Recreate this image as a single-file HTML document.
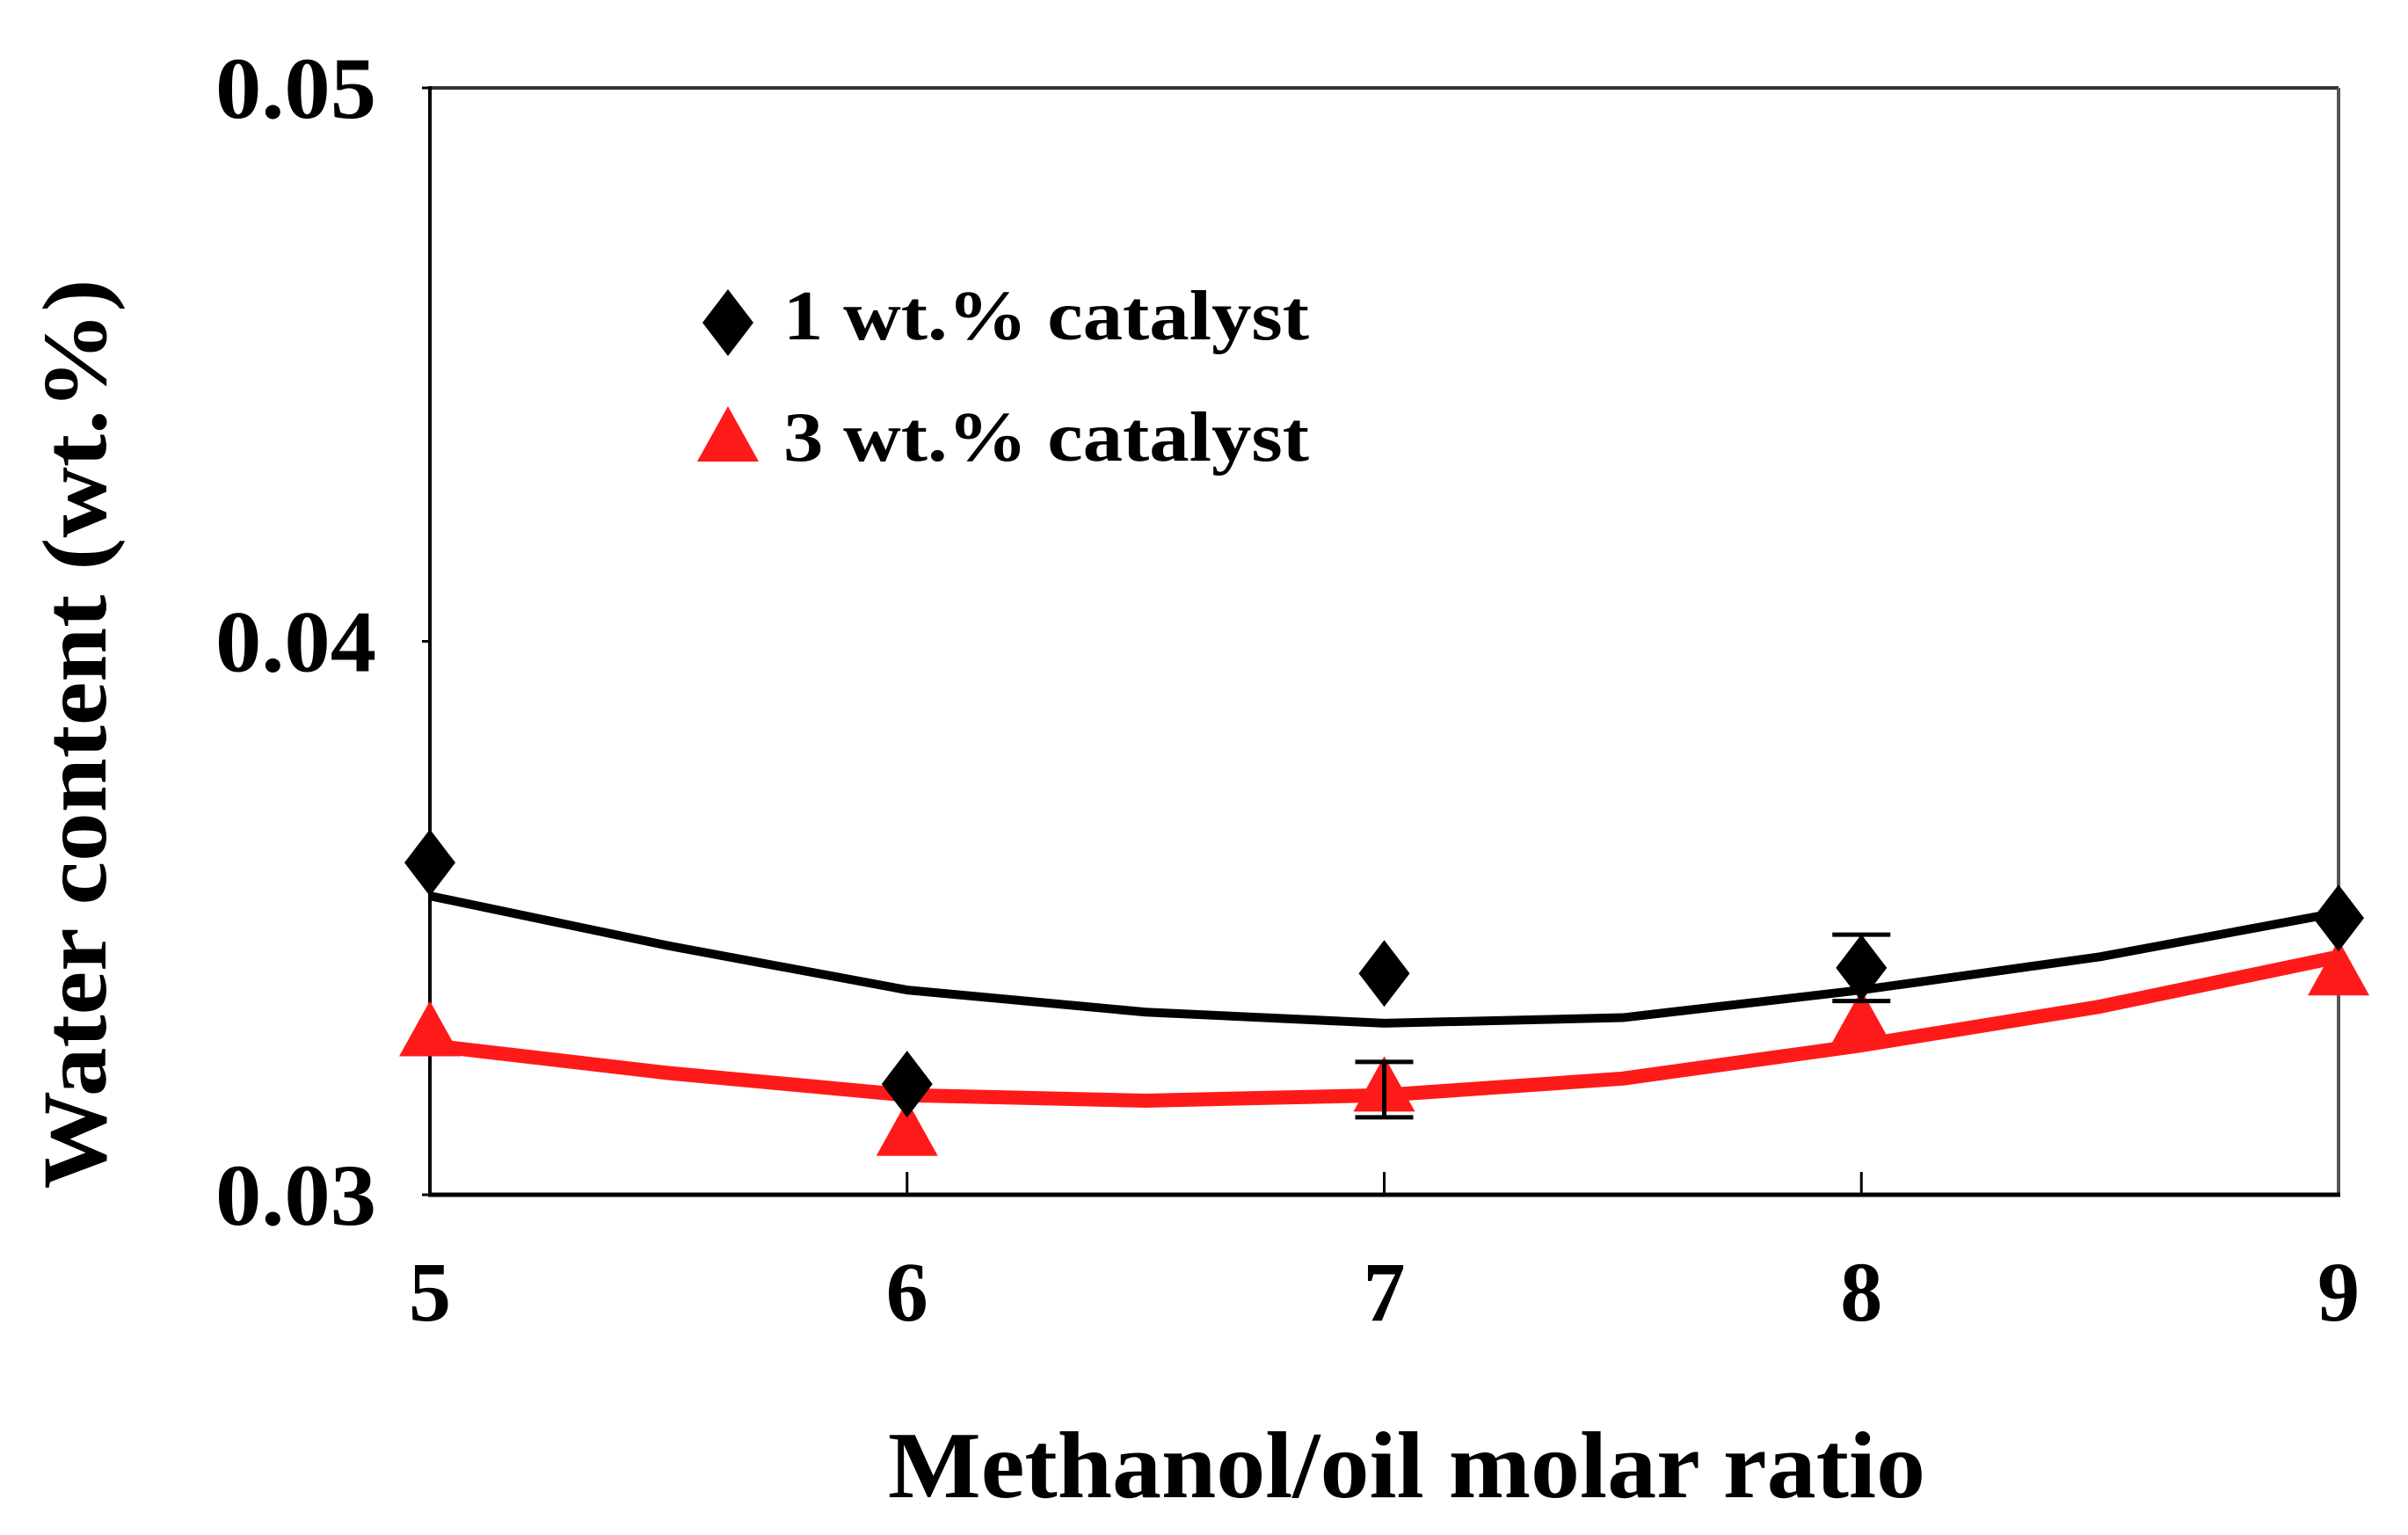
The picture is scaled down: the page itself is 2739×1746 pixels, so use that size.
<!DOCTYPE html>
<html><head><meta charset="utf-8">
<style>
html,body{margin:0;padding:0;background:#fff;}
svg{display:block;}
text{font-family:"Liberation Serif",serif;font-weight:bold;fill:#000;}
</style></head>
<body>
<svg id="chart" width="2739" height="1746" viewBox="0 0 2739 1746" xmlns="http://www.w3.org/2000/svg">
<rect width="2739" height="1746" fill="#fff"/>
<g id="frame">
<line x1="489" y1="100" x2="2660" y2="100" stroke="#333" stroke-width="4"/>
<line x1="2660" y1="100" x2="2660" y2="1359" stroke="#555" stroke-width="4"/>
<line x1="489" y1="98" x2="489" y2="1361" stroke="#000" stroke-width="4"/>
<line x1="487" y1="1359" x2="2662" y2="1359" stroke="#000" stroke-width="5"/>
</g>
<g id="series"></g>
<text x="891" y="386" font-size="80" textLength="598" lengthAdjust="spacingAndGlyphs">1 wt.% catalyst</text>
<text x="891" y="524" font-size="80" textLength="598" lengthAdjust="spacingAndGlyphs">3 wt.% catalyst</text>
<text x="1600" y="1703" font-size="108" text-anchor="middle" textLength="1180" lengthAdjust="spacingAndGlyphs">Methanol/oil molar ratio</text>
<text x="0" y="0" font-size="104" text-anchor="middle" textLength="1035" lengthAdjust="spacingAndGlyphs" transform="translate(120,835) rotate(-90)">Water content (wt.%)</text>
</svg>
<script>
const xCats = [5, 6, 7, 8, 9];
const yTicks = [0.03, 0.04, 0.05];
const yTickLabels = ["0.03", "0.04", "0.05"];
const series1 = [0.0360, 0.0320, 0.0340, 0.0341, 0.0350];
const series3 = [0.0329, 0.0311, 0.0319, 0.0331, 0.0340];
const trendX = [5, 5.5, 6, 6.5, 7, 7.5, 8, 8.5, 9];
const trend1 = [0.0354, 0.0345, 0.0337, 0.0333, 0.0331, 0.0332, 0.0337, 0.0343, 0.0351];
const trend3 = [0.0327, 0.0322, 0.0318, 0.0317, 0.0318, 0.0321, 0.0327, 0.0334, 0.0343];
const err1 = [null, null, null, 0.0006, null];
const err3 = [null, null, 0.0005, null, null];

const NS = "http://www.w3.org/2000/svg";
const svg = document.getElementById('chart');
const g = document.getElementById('series');
function xs(v){ return 489 + (v - 5) / 4 * (2660 - 489); }
function ys(v){ return 1359 - (v - 0.03) / 0.02 * (1359 - 100); }
function mk(tag, attrs){ const e = document.createElementNS(NS, tag); for (const k in attrs) e.setAttribute(k, attrs[k]); return e; }

xCats.forEach((c, i) => {
  const t = mk('text', {x: xs(c), y: 1502, 'font-size': 96, 'text-anchor': 'middle'});
  t.textContent = String(c);
  
  
  svg.appendChild(t);
  if (i > 0 && i < xCats.length - 1) {
    const l = mk('line', {x1: xs(c), x2: xs(c), y1: 1359, y2: 1333, stroke: '#000', 'stroke-width': 3});
    
    
    svg.appendChild(l);
  }
});
yTicks.forEach((v, i) => {
  const t = mk('text', {x: 428, y: ys(v) + 34, 'font-size': 100, 'text-anchor': 'end', textLength: 183, lengthAdjust: 'spacingAndGlyphs'});
  t.textContent = yTickLabels[i];
  
  
  svg.appendChild(t);
  const l = mk('line', {x1: 480, x2: 489, y1: ys(v), y2: ys(v), stroke: '#000', 'stroke-width': 3});
  
  
  svg.appendChild(l);
});

function pts(xa, ya){ return xa.map((x, i) => xs(x) + ',' + ys(ya[i])).join(' '); }
const c3 = mk('polyline', {points: pts(trendX, trend3), fill: 'none', stroke: '#ff1a1a', 'stroke-width': 16, 'stroke-linejoin': 'round'});


g.appendChild(c3);
const c1 = mk('polyline', {points: pts(trendX, trend1), fill: 'none', stroke: '#000', 'stroke-width': 10, 'stroke-linejoin': 'round'});


g.appendChild(c1);

function tri(cx, cy){ return (cx) + ',' + (cy - 38) + ' ' + (cx + 35) + ',' + (cy + 25) + ' ' + (cx - 35) + ',' + (cy + 25); }
function dia(cx, cy){ return cx + ',' + (cy - 38) + ' ' + (cx + 29) + ',' + cy + ' ' + cx + ',' + (cy + 38) + ' ' + (cx - 29) + ',' + cy; }

series3.forEach((v, i) => {
  const p = mk('polygon', {points: tri(xs(xCats[i]), ys(v)), fill: '#ff1a1a'});
  
  
  g.appendChild(p);
});
series1.forEach((v, i) => {
  const p = mk('polygon', {points: dia(xs(xCats[i]), ys(v)), fill: '#000'});
  
  
  g.appendChild(p);
});
function errBar(vals, errs, name){
  errs.forEach((e, i) => {
    if (e == null) return;
    const x = xs(xCats[i]), y1 = ys(vals[i] + e), y2 = ys(vals[i] - e);
    const eg = mk('g', {stroke: '#000', 'stroke-width': 5});
    
    
    eg.appendChild(mk('line', {x1: x, x2: x, y1: y1, y2: y2}));
    eg.appendChild(mk('line', {x1: x - 33, x2: x + 33, y1: y1, y2: y1}));
    eg.appendChild(mk('line', {x1: x - 33, x2: x + 33, y1: y2, y2: y2}));
    g.appendChild(eg);
  });
}
errBar(series1, err1, 'error-bar-1wt');
errBar(series3, err3, 'error-bar-3wt');

const lm1 = mk('polygon', {points: dia(828, 367), fill: '#000'});


svg.appendChild(lm1);
const lm3 = mk('polygon', {points: tri(828, 500), fill: '#ff1a1a'});


svg.appendChild(lm3);
</script>
</body></html>
